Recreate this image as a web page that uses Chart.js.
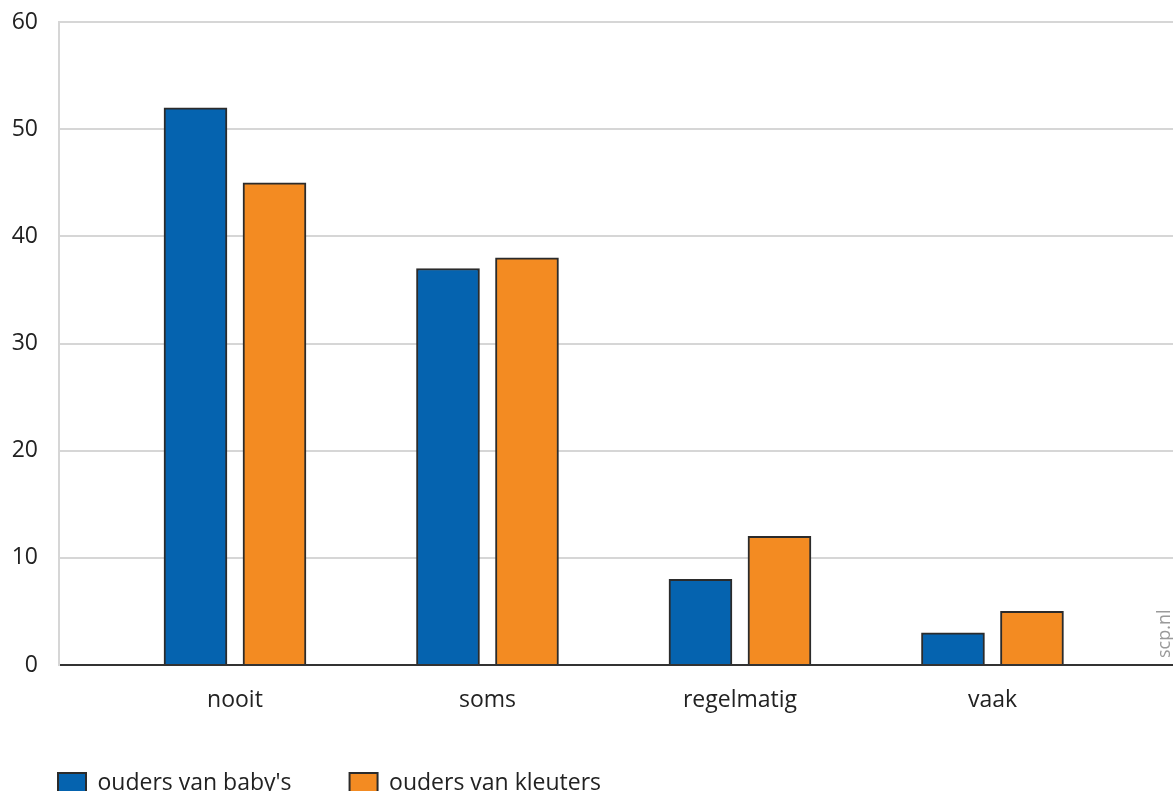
<!DOCTYPE html>
<html>
<head>
<meta charset="utf-8">
<title>Ouders van baby's en kleuters</title>
<script src="https://cdn.jsdelivr.net/npm/chart.js@4/dist/chart.umd.min.js"></script>
<style>
  html, body { margin: 0; padding: 0; background: #ffffff; }
  #wrap { width: 1173px; height: 791px; overflow: hidden; }
</style>
</head>
<body>
<div id="wrap"><canvas id="chart" width="1173" height="791"></canvas></div>
<script>
// Categories and series
const categories = ['nooit', 'soms', 'regelmatig', 'vaak'];
const babyValues = [52, 37, 8, 3];
const kleuterValues = [45, 38, 12, 5];
const seriesNames = ["ouders van baby's", 'ouders van kleuters'];
const yTicks = [0, 10, 20, 30, 40, 50, 60];
const sourceLabel = 'scp.nl';

const FONT = '"Open Sans", "Noto Sans", sans-serif';
const BLUE = '#0563af';
const ORANGE = '#f38b22';
const EDGE = '#2b2b2b';
const GRID = '#d6d6d6';

// Rotated source credit at the right edge of the plot
const sourcePlugin = {
  id: 'sourceCredit',
  afterDraw(chart) {
    const { ctx, chartArea } = chart;
    ctx.save();
    ctx.translate(chartArea.right - 3, chartArea.bottom - 7);
    ctx.rotate(-Math.PI / 2);
    ctx.font = '18px ' + FONT;
    ctx.fillStyle = '#9a9a9a';
    ctx.textAlign = 'left';
    ctx.textBaseline = 'alphabetic';
    ctx.fillText(sourceLabel, 0, 0);
    ctx.restore();
  }
};

new Chart(document.getElementById('chart'), {
  type: 'bar',
  data: {
    labels: categories,
    datasets: [
      {
        label: seriesNames[0],
        data: babyValues,
        backgroundColor: BLUE,
        borderColor: EDGE,
        borderWidth: 2
      },
      {
        label: seriesNames[1],
        data: kleuterValues,
        backgroundColor: ORANGE,
        borderColor: EDGE,
        borderWidth: 2
      }
    ]
  },
  options: {
    responsive: false,
    animation: false,
    devicePixelRatio: 1,
    barThickness: 79,
    maxBarThickness: 63,
    layout: { padding: { top: 22, right: 0, left: 0, bottom: -13.5 } },
    plugins: {
      tooltip: { enabled: false },
      legend: {
        position: 'bottom',
        align: 'start',
        labels: {
          color: '#222222',
          font: { family: FONT, size: 23 },
          boxWidth: 28,
          boxHeight: 20,
          padding: 58
        }
      }
    },
    scales: {
      x: {
        type: 'category',
        offset: false,
        grid: { display: false, drawTicks: false },
        border: { display: true, color: '#333333', width: 2 },
        ticks: {
          color: '#222222',
          font: { family: FONT, size: 23 },
          padding: 22,
          maxRotation: 0
        },
        afterBuildTicks(scale) {
          // widen the category axis so the groups sit inside a broader frame
          scale._startValue = -0.697;
          scale._valueRange = 4.412;
        },
        afterFit(scale) { scale.height = 48.5; }
      },
      y: {
        min: 0,
        max: 60,
        afterBuildTicks(scale) {
          scale.ticks = yTicks.map(v => ({ value: v }));
        },
        grid: {
          color: ctx => (ctx.tick && ctx.tick.value === 0 ? '#333333' : GRID),
          lineWidth: 2,
          drawTicks: false
        },
        border: { display: true, color: GRID, width: 2 },
        ticks: {
          color: '#222222',
          font: { family: FONT, size: 23 },
          padding: 21
        },
        afterFit(scale) {
          scale.width = 59;
          scale.paddingTop = 0;
          scale.paddingBottom = 0;
        }
      }
    }
  },
  plugins: [sourcePlugin]
});
</script>
</body>
</html>
